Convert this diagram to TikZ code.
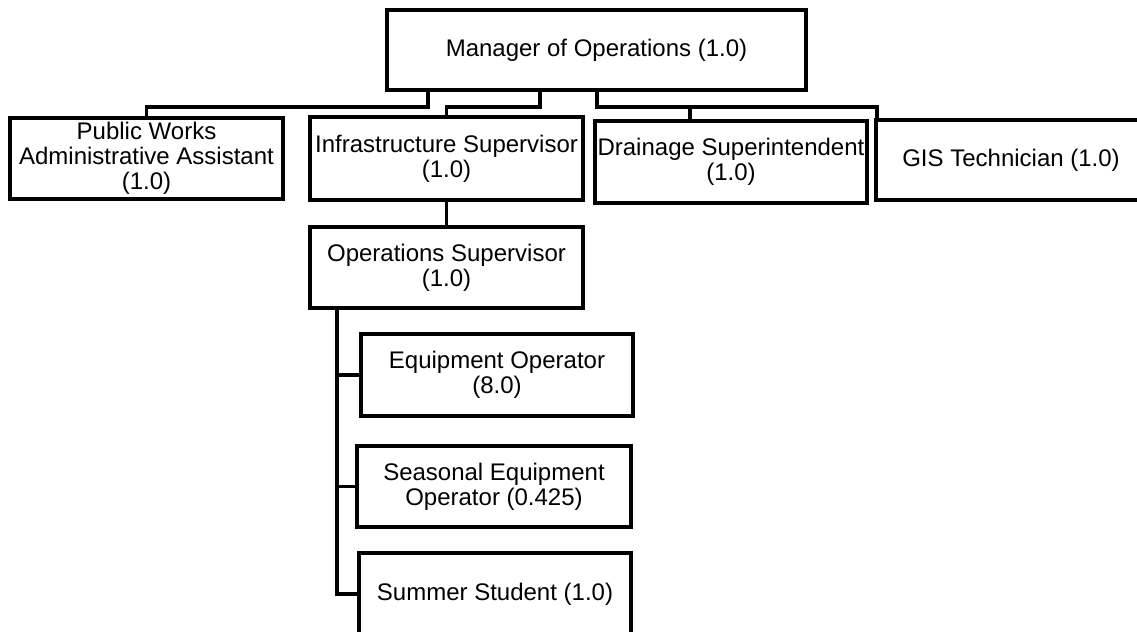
\documentclass[tikz,border=0pt]{standalone}
\usepackage{fontspec}
\setmainfont{Liberation Sans}
\begin{document}
\begin{tikzpicture}[x=0.5pt,y=-0.5pt,
  orgbox/.style={draw, line width=1.8pt, inner sep=0pt, align=center,
    font=\fontsize{12}{12.5}\selectfont},
  link/.style={line width=1.8pt}]
\useasboundingbox (0,0) rectangle (1137,632);
\clip (0,0) rectangle (1137,632);

% positions
\node[orgbox, minimum width=209.5pt, minimum height=40pt] (mgr) at (596.5,50) {Manager of Operations (1.0)};
\node[orgbox, minimum width=136.5pt, minimum height=40.5pt] (pw) at (146.5,158.5) {Public Works\\Administrative Assistant\\(1.0)};
\node[orgbox, minimum width=136.5pt, minimum height=41.5pt] (infra) at (446.5,158.5) {Infrastructure Supervisor\\(1.0)};
\node[orgbox, minimum width=136pt, minimum height=41pt] (drain) at (731,162) {Drainage Superintendent\\(1.0)};
\node[orgbox, minimum width=135pt, minimum height=40pt] (gis) at (1011,160) {GIS Technician (1.0)};
\node[orgbox, minimum width=136.5pt, minimum height=40.5pt] (ops) at (446.5,267.5) {Operations Supervisor\\(1.0)};
\node[orgbox, minimum width=136pt, minimum height=41pt] (equip) at (497,375) {Equipment Operator\\(8.0)};
\node[orgbox, minimum width=137pt, minimum height=40.5pt] (season) at (494,486.5) {Seasonal Equipment\\Operator (0.425)};
\node[orgbox, minimum width=136pt, minimum height=41pt] (summer) at (495,594) {Summer Student (1.0)};

% elbow points of the connectors
\coordinate (m1) at (428,107);
\coordinate (m2) at (540,107);
\coordinate (m3) at (597,107);
\coordinate (dj) at (690,107);
\coordinate (gj) at (877,107);
\coordinate (vj) at (337,0);

% connectors
\draw[link] (mgr.south -| m1) -- (m1) -| (pw.north);
\draw[link] (mgr.south -| m2) -- (m2) -| (infra.north);
\draw[link] (mgr.south -| m3) -- (m3) -- (gj) -- (gis.north -| gj);
\draw[link] (dj) -- (drain.north -| dj);
\draw[link] (infra.south) -- (ops.north);
\draw[link] (ops.south -| vj) |- (summer.west);
\draw[link] (equip.west -| vj) -- (equip.west);
\draw[link] (season.west -| vj) -- (season.west);
\end{tikzpicture}
\end{document}
